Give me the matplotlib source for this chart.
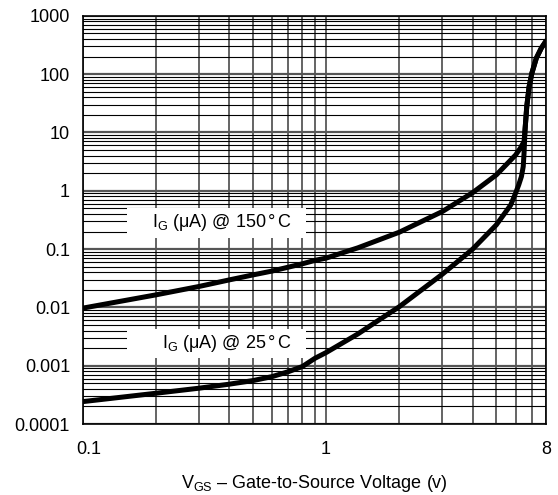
#!/usr/bin/env python3
"""Gate leakage current vs gate-to-source voltage (log-log)."""

import matplotlib
import matplotlib.pyplot as plt
from matplotlib.patches import Rectangle
from matplotlib.transforms import ScaledTranslation

matplotlib.use("Agg")

plt.rcParams["font.family"] = ["Liberation Sans", "DejaVu Sans"]
plt.rcParams["mathtext.fontset"] = "custom"
plt.rcParams["mathtext.rm"] = "Liberation Sans"
plt.rcParams["mathtext.it"] = "Liberation Sans:italic"

# I_G at 150 C (uA) vs V_GS (V)
vgs_150 = [0.1, 0.2, 0.3, 0.4, 0.5, 0.6, 0.7, 0.8, 0.9, 1.0, 1.35, 2.0, 3.0, 4.0,
           5.0, 6.0, 6.28, 6.5, 6.56, 6.67, 6.82, 7.0, 7.3, 7.65, 8.0]
ig_150 = [0.0097, 0.0164, 0.0228, 0.0296, 0.036, 0.042, 0.049, 0.056, 0.064, 0.070,
          0.105, 0.195, 0.44, 0.93, 1.87, 4.1, 5.4, 7.0, 11, 28, 61, 104, 188, 279, 370]

# I_G at 25 C (uA) vs V_GS (V)
vgs_25 = [0.1, 0.2, 0.3, 0.4, 0.5, 0.6, 0.7, 0.8, 0.9, 1.0, 1.35, 1.6, 2.0, 3.0,
          4.0, 5.0, 5.73, 6.0, 6.18, 6.34, 6.45, 6.5, 6.56, 6.67, 6.82, 7.0, 7.3,
          7.65, 8.0]
ig_25 = [0.000242, 0.000337, 0.000411, 0.000482, 0.000555, 0.00065, 0.00079,
         0.00097, 0.00134, 0.00168, 0.0035, 0.0056, 0.0103, 0.037, 0.10, 0.26,
         0.57, 0.91, 1.26, 1.75, 2.6, 4.4, 11, 28, 61, 104, 188, 279, 370]

x_ticks = [0.1, 1, 8]
x_tick_labels = ["0.1", "1", "8"]
y_ticks = [0.0001, 0.001, 0.01, 0.1, 1, 10, 100, 1000]
y_tick_labels = ["0.0001", "0.001", "0.01", "0.1", "1", "10", "100", "1000"]

label_150 = r"I$_\mathrm{G}$ ($\mathrm{\mu}$A) @ 150$\,\degree\,$C"
label_25 = r"I$_\mathrm{G}$ ($\mathrm{\mu}$A) @ 25$\,\degree\,$C"
x_label = r"V$_\mathrm{GS}$ – Gate-to-Source Voltage (v)"

fig = plt.figure(figsize=(5.58, 4.95), dpi=100)
ax = fig.add_axes([0.148, 0.1434, 0.8305, 0.8246])

ax.set_xscale("log")
ax.set_yscale("log")
ax.set_xlim(0.1, 8)
ax.set_ylim(0.0001, 1000)

# grid (major + minor) drawn under everything
ax.set_axisbelow(True)
ax.grid(True, which="major", axis="x", color="#3a3a3a", linewidth=1.1)
ax.grid(True, which="minor", axis="x", color="#3a3a3a", linewidth=1.1)
ax.grid(True, which="major", axis="y", color="#555555", linewidth=1.6)
ax.grid(True, which="minor", axis="y", color="black", linewidth=0.8)
ax.yaxis.set_minor_locator(matplotlib.ticker.LogLocator(base=10, subs=range(2, 10), numticks=20))
ax.xaxis.set_minor_locator(matplotlib.ticker.LogLocator(base=10, subs=range(2, 10), numticks=20))
ax.xaxis.set_minor_formatter(matplotlib.ticker.NullFormatter())
ax.yaxis.set_minor_formatter(matplotlib.ticker.NullFormatter())

ax.plot(vgs_150, ig_150, color="black", linewidth=3.6, solid_capstyle="round",
        solid_joinstyle="round", zorder=3)
ax.plot(vgs_25, ig_25, color="black", linewidth=3.6, solid_capstyle="round",
        solid_joinstyle="round", zorder=3)

# white label boxes covering the grid
for y0, h, ty, txt in [(0.456, 0.073, 0.494, label_150), (0.162, 0.071, 0.197, label_25)]:
    ax.add_patch(Rectangle((0.0956, y0), 0.3864, h, transform=ax.transAxes,
                           facecolor="white", edgecolor="none", zorder=2))
    ax.text(0.452, ty, txt, transform=ax.transAxes, ha="right", va="center",
            fontsize=13, zorder=4)

ax.set_xticks(x_ticks)
ax.set_xticklabels(x_tick_labels)
ax.set_yticks(y_ticks)
ax.set_yticklabels(y_tick_labels)
ax.tick_params(axis="both", which="both", length=0, labelsize=13)
ax.tick_params(axis="x", pad=12)
ax.tick_params(axis="y", pad=9)
ax.xaxis.get_majorticklabels()[0].set_transform(
    ax.xaxis.get_majorticklabels()[0].get_transform()
    + ScaledTranslation(6 / 100, 0, fig.dpi_scale_trans))

ax.set_xlabel(x_label, fontsize=13, labelpad=11)

for spine in ax.spines.values():
    spine.set_linewidth(1.2)
    spine.set_zorder(5)

plt.savefig("out.png", dpi=100)
plt.close()
